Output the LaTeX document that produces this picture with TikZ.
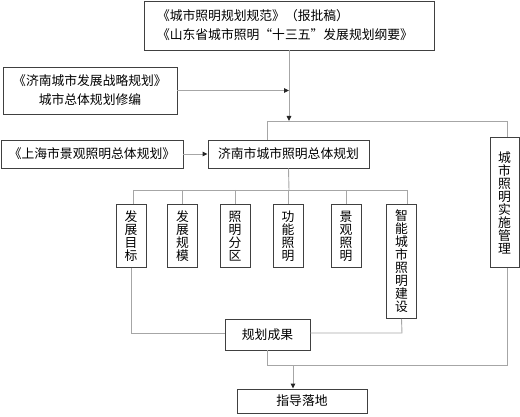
\documentclass[tikz,border=0pt]{standalone}
\usepackage{fontspec}
\newfontfamily\cjk{Noto Sans CJK SC}
\usetikzlibrary{arrows.meta}
\begin{document}
\begin{tikzpicture}[x=1pt,y=-1pt,
  box/.style={draw=black!75, line width=0.9pt, inner sep=0pt, align=center,
    font=\cjk\fontsize{12.8}{19}\selectfont},
  vbox/.style={box, font=\cjk\fontsize{12.8}{13}\selectfont, anchor=north},
  conn/.style={draw=black!35, line width=0.9pt},
  arr/.style={conn, -{Triangle[length=5pt,width=4.5pt,color=black!85]}}]
\useasboundingbox (0,0) rectangle (520,417);
% boxes
\node[box, minimum width=290, minimum height=49, align=left, text width=264] (top) at (289,25.5)
  {《城市照明规划规范》（报批稿）\\《山东省城市照明“十三五”发展规划纲要》};
\node[box, minimum width=174, minimum height=47] (fz) at (90,90.5)
  {《济南城市发展战略规划》\\城市总体规划修编};
\node[box, minimum width=182, minimum height=28] (sh) at (92,154) {《上海市景观照明总体规划》};
\node[box, minimum width=161, minimum height=28] (jn) at (288.5,154) {济南市城市照明总体规划};
\node[vbox, minimum width=30, minimum height=63] (s1) at (131,204) {发\\展\\目\\标};
\node[vbox, minimum width=30, minimum height=63] (s2) at (182.5,204) {发\\展\\规\\模};
\node[vbox, minimum width=30, minimum height=63] (s3) at (235,204) {照\\明\\分\\区};
\node[vbox, minimum width=30, minimum height=63] (s4) at (288,204) {功\\能\\照\\明};
\node[vbox, minimum width=30, minimum height=63] (s5) at (346,204) {景\\观\\照\\明};
\node[vbox, minimum width=30, minimum height=114] (s6) at (401.5,204) {智\\能\\城\\市\\照\\明\\建\\设};
\node[vbox, minimum width=29, minimum height=130] (rt) at (504.5,137) {城\\市\\照\\明\\实\\施\\管\\理};
\node[box, minimum width=85, minimum height=31] (gc) at (267.5,334.5) {规划成果};
\node[box, minimum width=130, minimum height=24] (zd) at (302,401) {指导落地};
% coordinates
\coordinate (jL) at (267,121);
\coordinate (jR) at (507,121);
\coordinate (jM) at (289,121);
\coordinate (bus) at (289,190);
\coordinate (d1) at (133,190);
\coordinate (d6) at (407,190);
\coordinate (b1) at (131,333);
\coordinate (b6) at (402,333);
\coordinate (lo) at (267,365);
\coordinate (lr) at (507,365);
\coordinate (ar) at (293,365);
% connectors
\draw[arr] (top.south) -- (jM);
\draw[arr] (fz.east) -- (fz.east -| top.south);
\draw[conn] (jn.north -| jL) -- (jL) -- (jR) -- (rt.north -| jR);
\draw[arr] (sh.east) -- (jn.west);
\draw[conn] (jn.south) -- (bus);
\draw[conn] (d1) -- (d6);
\draw[conn] (d1) -- (s1.north -| d1);
\draw[conn] (s2.north |- bus) -- (s2.north);
\draw[conn] (s3.north |- bus) -- (s3.north);
\draw[conn] (s4.north |- bus) -- (s4.north);
\draw[conn] (s5.north |- bus) -- (s5.north);
\draw[conn] (d6) -- (s6.north -| d6);
\draw[conn] (s1.south) -- (b1) -- (gc.west |- b1);
\draw[conn] (s6.south) -- (b6) -- (gc.east |- b6);
\draw[conn] (gc.south -| lo) -- (lo) -- (lr) -- (rt.south -| lr);
\draw[arr] (ar) -- (ar |- zd.north);
\end{tikzpicture}
\end{document}
